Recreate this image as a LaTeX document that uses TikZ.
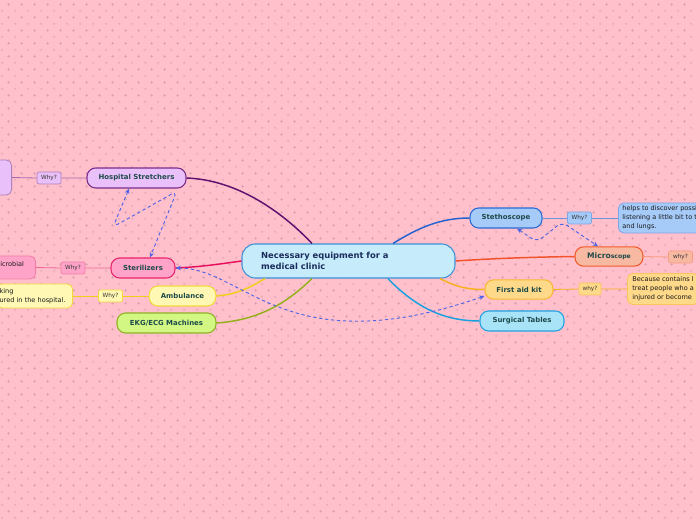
\documentclass[tikz,border=0pt]{standalone}
\usepackage{fontspec}
\setmainfont{DejaVu Sans}
\usetikzlibrary{arrows.meta,calc,patterns}
\definecolor{bgpink}{HTML}{FFC0CB}\definecolor{plusc}{HTML}{DDA3B2}
\definecolor{clinicfill}{HTML}{C6ECFB}\definecolor{clinicline}{HTML}{3D8FD6}\definecolor{clinictxt}{HTML}{1B2D5C}
\definecolor{topictxt}{HTML}{1D4A4A}\definecolor{relblue}{HTML}{5064E6}
\definecolor{stretchfill}{HTML}{E9C0F9}\definecolor{stretchline}{HTML}{7B2C8C}\definecolor{stretchbr}{HTML}{5C126E}
\definecolor{sterfill}{HTML}{FFA3C8}\definecolor{sterline}{HTML}{E8266E}\definecolor{sterbr}{HTML}{E8105C}
\definecolor{ambufill}{HTML}{FFF8B5}\definecolor{ambuline}{HTML}{F2D83C}\definecolor{ambubr}{HTML}{F2CE1C}
\definecolor{ekgfill}{HTML}{D2F883}\definecolor{ekgline}{HTML}{8FB226}\definecolor{ekgbr}{HTML}{94B01A}
\definecolor{stethfill}{HTML}{A6CBF9}\definecolor{stethline}{HTML}{2B6BD6}\definecolor{stethbr}{HTML}{2462D2}
\definecolor{microfill}{HTML}{F8B9A2}\definecolor{microline}{HTML}{F25A2A}\definecolor{microbr}{HTML}{F2522A}
\definecolor{aidfill}{HTML}{FFD98A}\definecolor{aidline}{HTML}{F7B733}\definecolor{aidbr}{HTML}{F8B01C}
\definecolor{surgfill}{HTML}{A9E3F8}\definecolor{surgline}{HTML}{22A2E2}\definecolor{surgbr}{HTML}{1AA0E0}
\pgfdeclarepatternformonly{pluses}{\pgfpointorigin}{\pgfqpoint{10pt}{10pt}}{\pgfqpoint{10pt}{10pt}}{%
\pgfsetlinewidth{0.5pt}%
\pgfpathmoveto{\pgfqpoint{1.5pt}{2.5pt}}\pgfpathlineto{\pgfqpoint{3.5pt}{2.5pt}}%
\pgfpathmoveto{\pgfqpoint{2.5pt}{1.5pt}}\pgfpathlineto{\pgfqpoint{2.5pt}{3.5pt}}%
\pgfpathmoveto{\pgfqpoint{6.5pt}{7.5pt}}\pgfpathlineto{\pgfqpoint{8.5pt}{7.5pt}}%
\pgfpathmoveto{\pgfqpoint{7.5pt}{6.5pt}}\pgfpathlineto{\pgfqpoint{7.5pt}{8.5pt}}%
\pgfusepath{stroke}}
\begin{document}
\begin{tikzpicture}[x=0.75pt,y=-0.75pt,
 topic/.style={draw,rounded corners=6.5pt,line width=0.8pt,font=\bfseries\fontsize{5.2}{6}\selectfont,text=topictxt,inner sep=0pt,minimum height=15pt},
 whybox/.style={draw,rounded corners=1.5pt,line width=0.5pt,font=\fontsize{4.3}{5}\selectfont,text=black!80,minimum width=18pt,minimum height=9pt,inner sep=0pt},
 notebox/.style={draw,rounded corners=4pt,line width=0.6pt,font=\fontsize{4.9}{6.75}\selectfont,text=black!90,align=left,inner ysep=0pt},
 br/.style={line width=1.1pt},twig/.style={line width=0.6pt},
 rel/.style={dash pattern=on 2.5pt off 2pt,line width=0.7pt,relblue,{Stealth[length=4pt,width=3.5pt]}-{Stealth[length=4pt,width=3.5pt]}}]
\useasboundingbox (0,0) rectangle (696,520);
\fill[bgpink] (0,0) rectangle (696,520);\fill[pattern=pluses,pattern color=plusc] (0,0) rectangle (696,520);
\node[draw=clinicline,fill=clinicfill,rounded corners=10pt,line width=0.8pt,minimum width=159.75pt,minimum height=25.5pt,inner sep=0pt,text width=131pt,align=left,text=clinictxt,font=\bfseries\fontsize{6.3}{8.25}\selectfont] (clinic) at (348.5,261) {Necessary equipment for a\\medical clinic};
\node[topic,fill=stretchfill,draw=stretchline,minimum width=74.25pt] (stretch) at (136.5,178) {Hospital Stretchers};
\node[topic,fill=sterfill,draw=sterline,minimum width=48pt] (steril) at (143,268) {Sterilizers};
\node[topic,fill=ambufill,draw=ambuline,minimum width=50pt] (ambu) at (182.5,296) {Ambulance};
\node[topic,fill=ekgfill,draw=ekgline,minimum width=74.25pt] (ekg) at (166.5,323) {EKG/ECG Machines};
\node[topic,fill=stethfill,draw=stethline,minimum width=54pt] (steth) at (506,218) {Stethoscope};
\node[topic,fill=microfill,draw=microline,minimum width=51pt,minimum height=14.5pt] (micro) at (609,256.5) {{\fontsize{5.7}{6}\selectfont Micro}{\fontsize{4.6}{6}\selectfont scope}};
\node[topic,fill=aidfill,draw=aidline,minimum width=51pt,minimum height=14.5pt] (aid) at (519,289.5) {First aid kit};
\node[topic,fill=surgfill,draw=surgline,minimum width=63pt] (surg) at (522,321) {Surgical Tables};
\node[whybox,fill=stretchfill,draw=stretchline!60] (whyStretch) at (49,178) {Why?};
\node[whybox,fill=sterfill,draw=sterline!60] (whySteril) at (73,268) {Why?};
\node[whybox,fill=ambufill,draw=ambuline] (whyAmbu) at (110.5,296) {Why?};
\node[whybox,fill=stethfill,draw=stethline!60] (whySteth) at (579.5,218) {Why?};
\node[whybox,fill=microfill,draw=microline!60] (whyMicro) at (680.5,257) {why?};
\node[whybox,fill=aidfill,draw=aidline!80,minimum width=16.5pt] (whyAid) at (590,289) {why?};
\node[notebox,fill=stretchfill,draw=stretchline!60,minimum width=30pt,minimum height=26.25pt,anchor=east] (noteStretch) at (12,177.5) {};
\node[notebox,fill=sterfill,draw=sterline!60,minimum width=45pt,minimum height=17.25pt,anchor=east] (noteSteril) at (36,267.5) {};
\node[font=\fontsize{4.9}{6.75}\selectfont,text=black!90,inner sep=0pt,anchor=west] (noteSterilTxt) at (0,264) {icrobial};
\node[notebox,fill=ambufill,draw=ambuline,minimum height=18pt,inner xsep=2.25pt,text width=52.5pt,anchor=east] (noteAmbu) at (73,296) {king\\ured in the hospital.};
\node[notebox,fill=stethfill,draw=stethline!60,minimum height=22.5pt,inner xsep=3pt,anchor=west] (noteSteth) at (618,218) {helps to discover possi\\listening a little bit to t\\and lungs.};
\node[notebox,fill=aidfill,draw=aidline!80,minimum height=23.25pt,inner xsep=3.75pt,anchor=west] (noteAid) at (627,289) {Because contains l\\treat people who a\\injured or become};
\draw[br,stretchbr] (stretch.east) .. controls (240,180) and (285,215) .. ([xshift=-27.4pt]clinic.north);
\draw[br,sterbr] (steril.east) .. controls (200,267) and (220,264) .. (clinic.west);
\draw[br,ambubr] (ambu.east) .. controls (240,294) and (252,286) .. ([xshift=-62.6pt]clinic.south);
\draw[br,ekgbr] (ekg.east) .. controls (262,320) and (290,300) .. ([xshift=-27.4pt]clinic.south);
\draw[br,stethbr] ([xshift=33.4pt]clinic.north) .. controls (418,228) and (440,218) .. (steth.west);
\draw[br,microbr] (clinic.east) .. controls (500,258) and (540,257) .. (micro.west);
\draw[br,aidbr] ([xshift=68.6pt]clinic.south) .. controls (458,288) and (470,289.5) .. (aid.west);
\draw[br,surgbr] ([xshift=29.6pt]clinic.south) .. controls (420,312) and (450,321) .. (surg.west);
\draw[twig,stretchline!70] (noteStretch.east) -- (whyStretch.west) (whyStretch.east) -- (stretch.west);
\draw[twig,sterline!70] (noteSteril.east) -- (whySteril.west) (whySteril.east) -- (steril.west);
\draw[twig,ambubr] (noteAmbu.east) -- (whyAmbu.west) (whyAmbu.east) -- (ambu.west);
\draw[twig,stethline!70] (steth.east) -- (whySteth.west) (whySteth.east) -- (noteSteth.west);
\draw[twig,microline!60] (micro.east) -- (whyMicro.west);
\draw[twig,aidbr] (aid.east) -- (whyAid.west) (whyAid.east) -- (noteAid.west);
\draw[rel,rounded corners=5pt] ([xshift=-5.6pt]stretch.south) -- (113,227) -- (177,191) -- ([xshift=5.25pt]steril.north);
\draw[rel,rounded corners=5pt] ([xshift=8.25pt]steth.south) -- (537,242) -- (562,222) -- ([xshift=-8.25pt]micro.north);
\draw[rel] (steril.east) .. controls (245,268) and (285,365) .. ([yshift=-4.9pt]aid.west);
\end{tikzpicture}
\end{document}
